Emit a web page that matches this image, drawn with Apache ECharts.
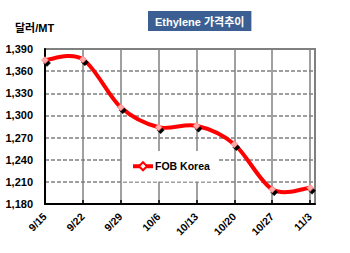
<!DOCTYPE html>
<html><head><meta charset="utf-8">
<script src="https://cdn.jsdelivr.net/npm/echarts@6/dist/echarts.min.js"></script>
<style>html,body{margin:0;padding:0;background:#fff}#c{width:350px;height:253px}</style>
</head><body><div id="c"></div>
<script>
const categories = ['9/15','9/22','9/29','10/6','10/13','10/20','10/27','11/3'];
const fobKorea = [1375, 1376, 1311, 1284, 1286, 1261, 1200, 1202];
const yTicks = [1180, 1390, 30];
const F = "'Liberation Sans', Arial, 'Noto Sans CJK KR', sans-serif";
const pts = categories.map((c, i) => [i, fobKorea[i]]);
const chart = echarts.init(document.getElementById('c'), null, {renderer: 'svg'});
chart.setOption({
  animation: false,
  backgroundColor: '#fff',
  title: {
    text: 'Ethylene 가격추이', left: 148, top: 11,
    backgroundColor: '#3b5f92', padding: [5, 7, 4, 7],
    textStyle: {color: '#fff', fontSize: 11, fontWeight: 'bold', fontFamily: F}
  },
  graphic: [{type: 'text', left: 15, top: 22, style: {text: '달러/MT', fill: '#000', font: 'bold 11px ' + F}}],
  legend: {
    left: 123, top: 151, padding: [10, 8, 10, 8], backgroundColor: '#fff',
    itemWidth: 20, itemHeight: 10, itemGap: 5,
    data: [{name: 'FOB Korea',
      itemStyle: {color: '#fff', borderColor: '#ff0000', shadowBlur: 0, shadowOffsetX: 0, shadowOffsetY: 0, shadowColor: 'transparent'},
      lineStyle: {color: '#ff0000', width: 4, opacity: 1}}],
    textStyle: {color: '#000', fontSize: 10.5, fontWeight: 'bold', fontFamily: F, padding: [0, 0, 0, -3]}
  },
  grid: {left: 45, top: 49, right: 35, bottom: 49, show: true, borderColor: '#808080', borderWidth: 2},
  xAxis: {
    type: 'value', min: 0, max: 7.13, interval: 1,
    axisLine: {lineStyle: {color: '#000', width: 2}},
    axisTick: {inside: true, length: 4, lineStyle: {color: '#000', width: 1.5}},
    splitLine: {show: true, lineStyle: {color: '#808080', width: 1.5}},
    axisLabel: {
      rotate: 45, margin: 11, color: '#000', fontSize: 10.5, fontWeight: 'bold', fontFamily: F,
      showMaxLabel: false,
      formatter: v => Number.isInteger(v) ? (categories[v] || '') : ''
    }
  },
  yAxis: {
    type: 'value', min: yTicks[0], max: yTicks[1], interval: yTicks[2],
    axisLine: {show: true, lineStyle: {color: '#000', width: 2}},
    axisTick: {show: false},
    splitLine: {show: true, lineStyle: {color: '#808080', width: 1.5, type: [4, 2]}},
    axisLabel: {
      margin: 12, color: '#000', fontSize: 11, fontWeight: 'bold', fontFamily: F,
      formatter: v => v.toLocaleString('en-US')
    }
  },
  series: [{
    name: 'curve', type: 'custom', data: pts, z: 2, silent: true,
    renderItem: function (params, api) {
      const i = params.dataIndexInside, n = params.dataInsideLength;
      if (i >= n - 1) return null;
      const P = k => api.coord([api.value(0, k), api.value(1, k)]);
      const p0 = P(Math.max(i - 1, 0)), p1 = P(i), p2 = P(i + 1), p3 = P(Math.min(i + 2, n - 1));
      const t = 1 / 6;
      return {
        type: 'bezierCurve',
        shape: {
          x1: p1[0], y1: p1[1],
          cpx1: p1[0] + (p2[0] - p0[0]) * t, cpy1: p1[1] + (p2[1] - p0[1]) * t,
          cpx2: p2[0] - (p3[0] - p1[0]) * t, cpy2: p2[1] - (p3[1] - p1[1]) * t,
          x2: p2[0], y2: p2[1]
        },
        style: {stroke: '#ff0000', lineWidth: 4, fill: null, lineCap: 'round'}
      };
    }
  }, {
    name: 'FOB Korea', type: 'line', data: pts, z: 3,
    symbol: 'diamond', symbolSize: 7,
    lineStyle: {color: '#ff0000', width: 4, opacity: 0},
    itemStyle: {color: '#ffaaaa', borderColor: '#ff6060', borderWidth: 0.5, shadowColor: '#000', shadowBlur: 0, shadowOffsetX: 2, shadowOffsetY: 3}
  }]
});
</script></body></html>
